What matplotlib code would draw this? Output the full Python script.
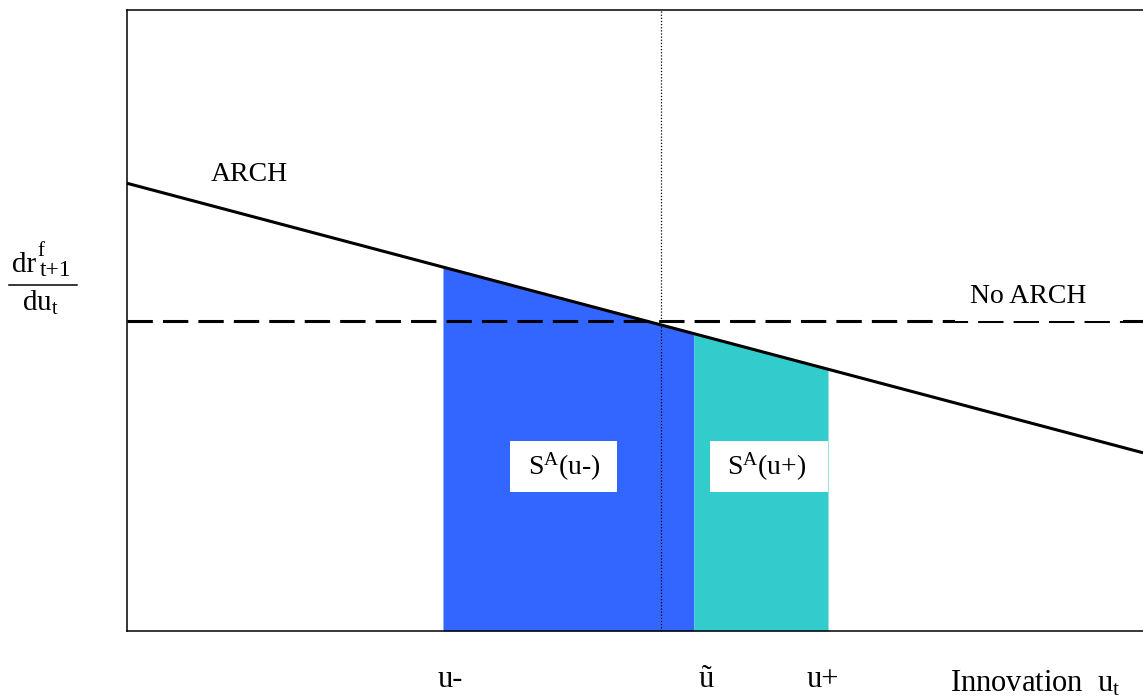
import matplotlib
matplotlib.use("Agg")
import matplotlib.pyplot as plt
import numpy as np
from matplotlib.lines import Line2D
from matplotlib.patches import Rectangle

# ──── DATA ───────────────────────────────────────────────────────────────────

# axes run from 0 to 10 on both scales (abstract units)
arch_x = [0.0, 10.0]
arch_y = [7.21, 2.87]
no_arch_y = 5.0
u_tilde_line = 5.26          # dotted vertical line
u_minus, u_split, u_plus = 3.11, 5.58, 6.90   # fill edges

tick_pos = [3.18, 5.70, 6.85]
tick_labels = ["u-", "ũ", "u+"]

blue = "#3366ff"
teal = "#33cccc"

# ──── PLOT SETTINGS ──────────────────────────────────────────────────────────

plt.rcParams.update(
    {
        "font.family": "Liberation Serif",
        "mathtext.fontset": "custom",
        "mathtext.rm": "Liberation Serif",
        "mathtext.it": "Liberation Serif",
        "font.size": 20,
    }
)

W, H = 1143, 698
fig = plt.figure(figsize=(W / 100, H / 100), dpi=100)
ax = fig.add_axes([127 / W, 67 / H, 1016 / W, 621 / H])
ax.set_xlim(0, 10)
ax.set_ylim(0, 10)
for side in ["left", "bottom", "top"]:
    ax.spines[side].set_linewidth(1.1)
ax.spines["right"].set_visible(False)
ax.set_xticks([])
ax.set_yticks([])


def arch(x):
    return np.interp(x, arch_x, arch_y)


xs_b = np.linspace(u_minus, u_split, 50)
ax.fill_between(xs_b, 0, arch(xs_b), color=blue, lw=0, zorder=1)
xs_t = np.linspace(u_split, u_plus, 50)
ax.fill_between(xs_t, 0, arch(xs_t), color=teal, lw=0, zorder=1)

ax.axhline(no_arch_y, color="black", lw=2.2, dashes=(8.3, 3.3), zorder=3)
ax.plot(arch_x, arch_y, color="black", lw=2.2, zorder=4, solid_capstyle="butt")
ax.axvline(u_tilde_line, color="black", lw=0.9, ls=(0, (1, 1.5)), zorder=5)

# white strip over the upper half of the dashed line near "No ARCH"
ax.fill_between([8.15, 9.8], no_arch_y - 0.005, no_arch_y + 0.06, color="white", lw=0, zorder=3.5)

ax.text(1.2, 7.35, "ARCH", ha="center", va="center")
ax.text(8.87, 5.39, "No ARCH", ha="center", va="center")

# white label boxes
ax.add_patch(Rectangle((3.77, 2.24), 1.05, 0.82, fc="white", ec="none", zorder=6))
ax.add_patch(Rectangle((5.74, 2.24), 1.16, 0.82, fc="white", ec="none", zorder=6))
ax.text(4.30, 2.65, "S$^{\\mathrm{A}}$(u-)", ha="center", va="center", zorder=7)
ax.text(6.29, 2.65, "S$^{\\mathrm{A}}$(u+)", ha="center", va="center", zorder=7)

for pos, lab in zip(tick_pos, tick_labels):
    ax.text(pos, -0.905, lab, ha="center", va="baseline", fontsize=22, clip_on=False)
fig.text(950 / W, 1 - 691 / H, "Innovation  u$_{\\mathrm{t}}$", ha="left", va="baseline", fontsize=22)

# y label as a hand-built fraction
fig.text(12 / W, 1 - 272 / H, "dr", ha="left", va="baseline", fontsize=21)
fig.text(37 / W, 1 - 256 / H, "f", ha="left", va="baseline", fontsize=15)
fig.text(40 / W, 1 - 276 / H, "t+1", ha="left", va="baseline", fontsize=17)
fig.text(22 / W, 1 - 311 / H, r"du$_{\mathrm{t}}$", ha="left", va="baseline", fontsize=21)
fig.add_artist(Line2D([9 / W, 77 / W], [1 - 285 / H, 1 - 285 / H], color="black", lw=1.1,
                      transform=fig.transFigure))

fig.savefig("out.png", dpi=100)
